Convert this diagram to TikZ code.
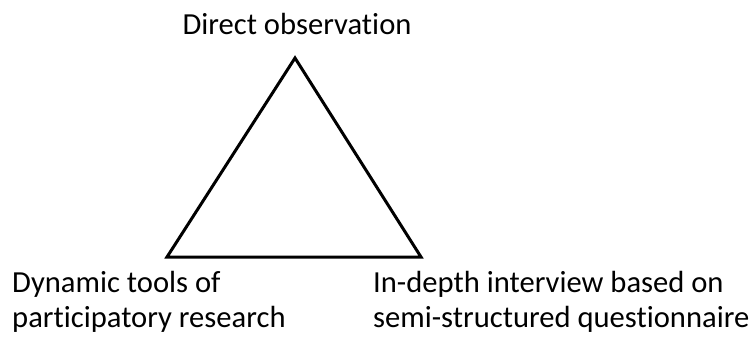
\documentclass[tikz,border=0pt]{standalone}
\usepackage{fontspec}
\setmainfont[RawFeature={-liga}]{Carlito}
\usepackage{tikz}

\tikzset{
  label text/.style={inner sep=0pt, font=\fontsize{30.6}{35}\selectfont, align=left},
  side/.style={line width=3pt, line join=miter}
}

\begin{document}
\begin{tikzpicture}[x=1pt, y=-1pt]
\useasboundingbox (0,0) rectangle (752,345);
\coordinate (apex) at (295,58);
\coordinate (left) at (167,257);
\coordinate (right) at (421,257);
\draw[side] (apex) -- (left) -- (right) -- cycle;
\node[label text, anchor=base] (obs) at (297,35) {Direct observation};
\node[label text, anchor=base west] (tools) at (12,327) {Dynamic tools of\\participatory research};
\node[label text, anchor=base west] (interview) at (373,327) {In-depth interview based on\\semi-structured questionnaire};
\end{tikzpicture}
\end{document}
